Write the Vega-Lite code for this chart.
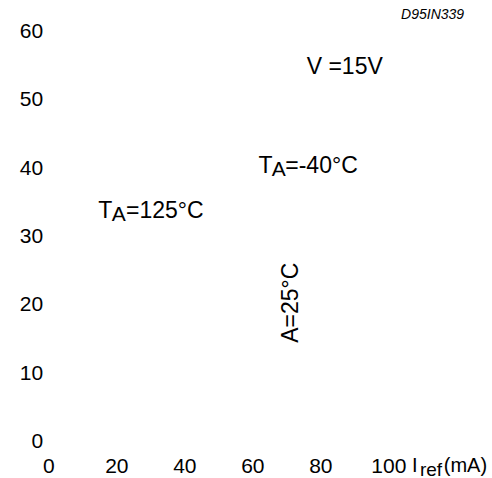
{
  "$schema": "https://vega.github.io/schema/vega-lite/v6.json",
  "autosize": "none",
  "width": 340,
  "height": 410,
  "padding": {"left": 48.3, "top": 31.5, "right": 103.7, "bottom": 36.5},
  "config": {
    "view": {"stroke": null},
    "font": "Liberation Sans",
    "text": {"font": "Liberation Sans", "color": "#000000"}
  },
  "layer": [
    {
      "data": {"values": [
        {"x": 76.0, "y": 53.8, "text": "V =15V"},
        {"x": 61.8, "y": 39.36, "text": "T"},
        {"x": 69.7, "y": 39.36, "text": "=-40°C"},
        {"x": 14.7, "y": 32.78, "text": "T"},
        {"x": 22.85, "y": 32.78, "text": "=125°C"}
      ]},
      "mark": {"type": "text", "fontSize": 23, "align": "left", "baseline": "alphabetic"},
      "encoding": {
        "x": {"field": "x", "type": "quantitative",
          "scale": {"domain": [0, 100], "nice": false, "zero": false},
          "axis": {"values": [0, 20, 40, 60, 80, 100], "domain": false, "ticks": false, "grid": false,
            "title": null, "labelFontSize": 21, "labelFont": "Liberation Sans", "labelColor": "#000000",
            "labelPadding": 14, "labelFlush": false, "labelOverlap": false}},
        "y": {"field": "y", "type": "quantitative",
          "scale": {"domain": [0, 60], "nice": false, "zero": false},
          "axis": {"values": [0, 10, 20, 30, 40, 50, 60], "domain": false, "ticks": false, "grid": false,
            "title": null, "labelFontSize": 21, "labelFont": "Liberation Sans", "labelColor": "#000000",
            "labelPadding": 5.6, "labelFlush": false, "labelOverlap": false}},
        "text": {"field": "text"}
      }
    },
    {
      "data": {"values": [
        {"x": 65.7, "y": 38.86, "text": "A"},
        {"x": 18.65, "y": 32.28, "text": "A"}
      ]},
      "mark": {"type": "text", "fontSize": 21, "align": "left", "baseline": "alphabetic"},
      "encoding": {
        "x": {"field": "x", "type": "quantitative"},
        "y": {"field": "y", "type": "quantitative"},
        "text": {"field": "text"}
      }
    },
    {
      "data": {"values": [
        {"x": 73.4, "y": 20.3, "text": "A=25°C"}
      ]},
      "mark": {"type": "text", "fontSize": 23, "align": "center", "baseline": "alphabetic", "angle": 270},
      "encoding": {
        "x": {"field": "x", "type": "quantitative"},
        "y": {"field": "y", "type": "quantitative"},
        "text": {"field": "text"}
      }
    },
    {
      "data": {"values": [
        {"x": 122.3, "y": 61.87, "text": "D95IN339"}
      ]},
      "mark": {"type": "text", "fontSize": 14, "fontStyle": "italic", "align": "right", "baseline": "alphabetic"},
      "encoding": {
        "x": {"field": "x", "type": "quantitative"},
        "y": {"field": "y", "type": "quantitative"},
        "text": {"field": "text"}
      }
    },
    {
      "data": {"values": [
        {"x": 107.0, "y": -4.5, "text": "I"},
        {"x": 116.3, "y": -4.5, "text": "(mA)"}
      ]},
      "mark": {"type": "text", "fontSize": 20, "align": "left", "baseline": "alphabetic"},
      "encoding": {
        "x": {"field": "x", "type": "quantitative"},
        "y": {"field": "y", "type": "quantitative"},
        "text": {"field": "text"}
      }
    },
    {
      "data": {"values": [
        {"x": 109.3, "y": -5.0, "text": "ref"}
      ]},
      "mark": {"type": "text", "fontSize": 19, "align": "left", "baseline": "alphabetic"},
      "encoding": {
        "x": {"field": "x", "type": "quantitative"},
        "y": {"field": "y", "type": "quantitative"},
        "text": {"field": "text"}
      }
    }
  ]
}
